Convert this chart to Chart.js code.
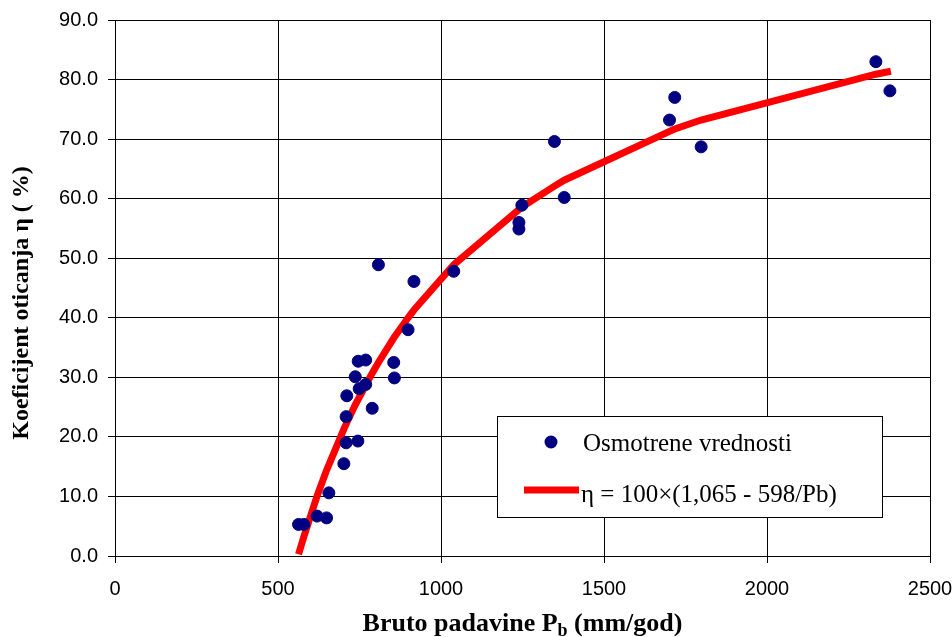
<!DOCTYPE html>
<html>
<head>
<meta charset="utf-8">
<script src="https://cdn.jsdelivr.net/npm/chart.js@4.4.1/dist/chart.umd.min.js"></script>
<style>
  body { margin: 0; background: #fff; }
  #wrap { width: 952px; height: 637px; }
</style>
</head>
<body>
<div id="wrap"><canvas id="chart" width="952" height="637"></canvas></div>
<script>

// observed values (P in mm/god, eta in %)
const obsP   = [563, 579, 620, 649, 656, 702, 709, 709, 711, 737, 745, 746, 749, 769, 769, 789, 808, 855, 857, 899, 917, 1039, 1239, 1239, 1248, 1348, 1378, 1701, 1717, 1798, 2334, 2377];
const obsEta = [5.3, 5.3, 6.7, 6.4, 10.6, 15.5, 23.4, 19.0, 26.9, 30.1, 19.3, 32.7, 28.1, 32.9, 28.8, 24.8, 48.9, 32.5, 29.9, 38.0, 46.1, 47.8, 56.0, 54.9, 58.9, 69.6, 60.2, 73.2, 77.0, 68.7, 83.0, 78.1];

// fitted curve
const fitP   = [563, 579, 620, 649, 656, 702, 711, 737, 745, 769, 789, 808, 855, 899, 917, 1039, 1248, 1348, 1378, 1701, 1717, 1798, 2334, 2380];
const fitEta = [0.3, 3.2, 10.1, 14.4, 15.3, 21.3, 22.4, 25.4, 26.2, 28.7, 30.7, 32.5, 36.6, 40.0, 41.3, 48.9, 58.6, 62.1, 63.1, 71.3, 71.7, 73.2, 80.9, 81.4];

// axis ticks
const xTicks = [0, 500, 1000, 1500, 2000, 2500];
const yTicks = [0, 10, 20, 30, 40, 50, 60, 70, 80, 90];

const labelObs = "Osmotrene vrednosti";
const labelFit = "η = 100×(1,065 - 598/Pb)";

const navy = "#000080";
const red = "#ff0000";

function toPoints(xs, ys) {
  return xs.map((x, i) => ({ x: x, y: ys[i] }));
}

// axis titles and legend box drawn by hand (subscript, legend inside plot)
const extras = {
  id: "extras",
  afterDraw(chart) {
    const ctx = chart.ctx;
    const area = chart.chartArea;
    ctx.save();
    ctx.fillStyle = "#000";

    // x title with subscript b
    ctx.textBaseline = "alphabetic";
    ctx.font = "bold 26px 'Liberation Serif', 'Times New Roman', serif";
    let part1 = "Bruto padavine P";
    let part3 = " (mm/god)";
    let w1 = ctx.measureText(part1).width;
    let w3 = ctx.measureText(part3).width;
    ctx.font = "bold 18px 'Liberation Serif', 'Times New Roman', serif";
    let w2 = ctx.measureText("b").width;
    let total = w1 + w2 + w3;
    let xs = (area.left + area.right) / 2 - total / 2;
    let base = 631;
    ctx.font = "bold 26px 'Liberation Serif', 'Times New Roman', serif";
    ctx.textAlign = "left";
    ctx.fillText(part1, xs, base);
    ctx.font = "bold 18px 'Liberation Serif', 'Times New Roman', serif";
    ctx.fillText("b", xs + w1, base + 5);
    ctx.font = "bold 26px 'Liberation Serif', 'Times New Roman', serif";
    ctx.fillText(part3, xs + w1 + w2, base);

    // y title rotated
    ctx.save();
    ctx.translate(22, 303);
    ctx.rotate(-Math.PI / 2);
    ctx.textAlign = "center";
    ctx.textBaseline = "middle";
    ctx.font = "bold 24px 'Liberation Serif', 'Times New Roman', serif";
    ctx.fillText("Koeficijent oticanja η ( %)", 0, 0);
    ctx.restore();

    // legend box
    let bx = 497, by = 416, bw = 385, bh = 101;
    ctx.fillStyle = "#fff";
    ctx.fillRect(bx, by, bw, bh);
    ctx.strokeStyle = "#000";
    ctx.lineWidth = 1;
    ctx.strokeRect(bx + 0.5, by + 0.5, bw, bh);

    ctx.fillStyle = navy;
    ctx.beginPath();
    ctx.arc(551, 442, 6.5, 0, Math.PI * 2);
    ctx.fill();

    ctx.strokeStyle = red;
    ctx.lineWidth = 7;
    ctx.beginPath();
    ctx.moveTo(524, 490);
    ctx.lineTo(579, 490);
    ctx.stroke();

    ctx.fillStyle = "#000";
    ctx.textAlign = "left";
    ctx.textBaseline = "alphabetic";
    ctx.font = "25px 'Liberation Serif', 'Times New Roman', serif";
    ctx.fillText(labelObs, 583, 451);
    ctx.fillText(labelFit, 581, 502);
    ctx.restore();
  }
};

const ctx = document.getElementById("chart").getContext("2d");

new Chart(ctx, {
  type: "scatter",
  data: {
    datasets: [
      {
        label: labelObs,
        data: toPoints(obsP, obsEta),
        backgroundColor: navy,
        borderColor: navy,
        borderWidth: 1,
        pointRadius: 6,
        order: 0
      },
      {
        label: labelFit,
        data: toPoints(fitP, fitEta),
        showLine: true,
        borderColor: red,
        backgroundColor: red,
        borderWidth: 7,
        pointRadius: 0,
        tension: 0,
        order: 1
      }
    ]
  },
  options: {
    responsive: false,
    animation: false,
    devicePixelRatio: 1,
    layout: { padding: { left: 0, right: 22, top: 20, bottom: 0 } },
    plugins: {
      legend: { display: false },
      tooltip: { enabled: false }
    },
    scales: {
      x: {
        type: "linear",
        min: xTicks[0],
        max: xTicks[xTicks.length - 1],
        afterBuildTicks: (axis) => { axis.ticks = xTicks.map((v) => ({ value: v })); },
        afterFit: (axis) => {
          axis.height = 81;
          axis.paddingLeft = 0;
          axis.paddingRight = 0;
        },
        ticks: {
          color: "#000",
          padding: 14,
          maxRotation: 0,
          callback: (v) => String(v),
          font: { family: "'Liberation Sans', Arial, sans-serif", size: 20 }
        },
        grid: { color: "#000", lineWidth: 1, tickLength: 7 },
        border: { color: "#000", width: 1 }
      },
      y: {
        type: "linear",
        min: yTicks[0],
        max: yTicks[yTicks.length - 1],
        afterBuildTicks: (axis) => { axis.ticks = yTicks.map((v) => ({ value: v })); },
        afterFit: (axis) => {
          axis.width = 115;
          axis.paddingTop = 0;
          axis.paddingBottom = 0;
        },
        ticks: {
          color: "#000",
          padding: 10,
          callback: (v) => Number(v).toFixed(1),
          font: { family: "'Liberation Sans', Arial, sans-serif", size: 20 }
        },
        grid: { color: "#000", lineWidth: 1, tickLength: 7 },
        border: { color: "#000", width: 1 }
      }
    }
  },
  plugins: [extras]
});
</script>
</body>
</html>
